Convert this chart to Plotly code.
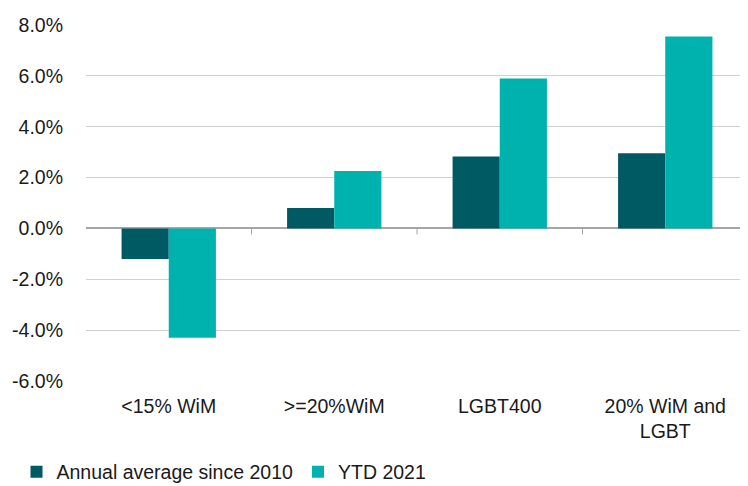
import plotly.graph_objects as go

categories = ["<15% WiM", ">=20%WiM", "LGBT400", "20% WiM and<br>LGBT"]
annual_avg = [-1.2, 0.8, 2.83, 2.96]
ytd_2021 = [-4.3, 2.26, 5.9, 7.55]
y_ticks = [-6, -4, -2, 0, 2, 4, 6, 8]
y_tick_labels = [f"{v:.1f}%" for v in y_ticks]

dark = "#005A64"
teal = "#00B2AE"
font = "Liberation Sans, Arial, sans-serif"
fs = 19.5

fig = go.Figure()
fig.add_trace(go.Bar(x=categories, y=annual_avg, name="Annual average since 2010",
                     marker=dict(color=dark, line=dict(width=0))))
fig.add_trace(go.Bar(x=categories, y=ytd_2021, name="YTD 2021",
                     marker=dict(color=teal, line=dict(width=0))))

# small tick marks at category boundaries on the zero line
for i in range(1, len(categories) + 1):
    fig.add_shape(type="line", xref="x", yref="y", x0=i - 0.5, x1=i - 0.5,
                  ysizemode="pixel", yanchor=0, y0=0, y1=-6,
                  line=dict(color="#A6A6A6", width=1))

fig.update_layout(
    width=740, height=478,
    margin=dict(l=78, r=0, t=17, b=105),
    paper_bgcolor="white", plot_bgcolor="white",
    barmode="group", bargap=0.43, bargroupgap=0,
    font=dict(family=font, size=fs, color="#1a1a1a"),
    legend=dict(orientation="h", xref="container", yref="container",
                x=0.0115, xanchor="left", y=0.07, yanchor="top",
                font=dict(size=fs), itemwidth=30, tracegroupgap=0,
                bgcolor="rgba(0,0,0,0)"),
    xaxis=dict(showgrid=False, showline=False, ticks="", tickfont=dict(size=fs),
               range=[-0.5, 3.5], ticklabelstandoff=11),
    yaxis=dict(range=[-6, 8], tickvals=y_ticks, ticktext=y_tick_labels,
               showgrid=True, gridcolor="#D0D0D0", gridwidth=1,
               zeroline=True, zerolinecolor="#A6A6A6", zerolinewidth=1.5,
               showline=False, ticks="", ticklabelstandoff=22,
               tickfont=dict(size=fs)),
)

fig.write_html("out.html")
